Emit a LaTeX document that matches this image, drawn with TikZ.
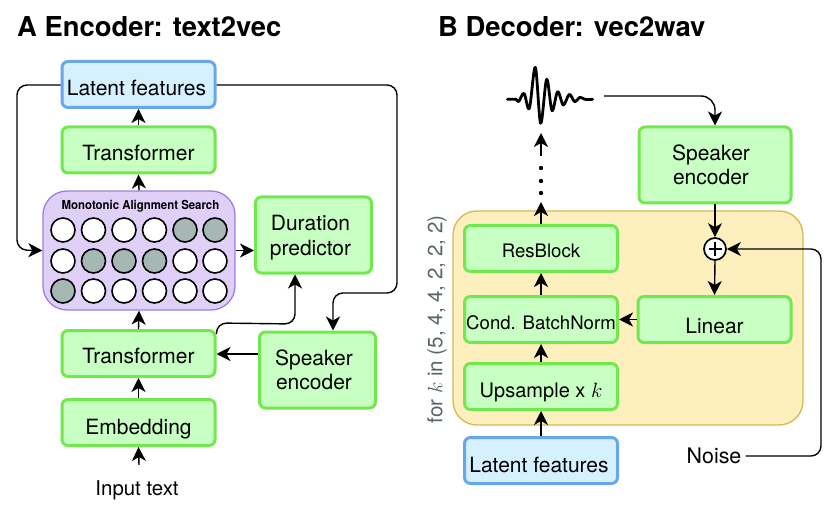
\documentclass[tikz,border=0pt]{standalone}
\usepackage{fontspec}
\setmainfont{TeX Gyre Heros}
\usetikzlibrary{arrows.meta,calc}
\definecolor{greenfill}{HTML}{C8FFC2}
\definecolor{greenline}{HTML}{70E84E}
\definecolor{bluefill}{HTML}{D5F0FF}
\definecolor{blueline}{HTML}{6AA6EC}
\definecolor{purplefill}{HTML}{E0D0F8}
\definecolor{purpleline}{HTML}{9A80E6}
\definecolor{yellowfill}{HTML}{FDF0BE}
\definecolor{yellowline}{HTML}{D6B94E}
\definecolor{cellgrey}{HTML}{A6B8B3}
\definecolor{labelgrey}{HTML}{566666}
\newcommand{\labelsize}{\fontsize{21}{24.5}\selectfont}
\newcommand{\smallsize}{\fontsize{18.6}{23}\selectfont}
\tikzset{
  x=1pt, y=-1pt,
  flowbox/.style={rounded corners=6pt, line width=3pt, inner sep=0pt, align=center,
    font=\labelsize, text=black},
  greenbox/.style={flowbox, draw=greenline, fill=greenfill},
  bluebox/.style={flowbox, draw=blueline, fill=bluefill},
  wide/.style={minimum width=153pt, minimum height=46pt},
  tall/.style={minimum width=116pt, minimum height=76pt},
  lower/.style={text height=#1, text depth=0pt},
  panel/.style={rounded corners=24pt, line width=1.3pt},
  cell/.style={circle, draw=black, line width=1.6pt, minimum size=24pt, inner sep=0pt, fill=white},
  cellon/.style={cell, fill=cellgrey},
  link/.style={draw=black, line width=1.4pt, rounded corners=10pt,
    -{Stealth[length=14pt, width=14pt, inset=4pt]}},
  heading/.style={font=\fontsize{27.4}{32}\selectfont\bfseries, anchor=west},
}
\begin{document}
\begin{tikzpicture}
\useasboundingbox (0,0) rectangle (830,513);

% Panel headings
\node[heading, inner sep=0pt] (titleA) at (17,27) {A Encoder: text2vec};
\node[heading, inner sep=0pt] (titleB) at (438,27) {B Decoder: vec2wav};

% Encoder: alignment panel with its grid of cells
\node[draw=purpleline, fill=purplefill, panel, minimum width=192pt, minimum height=119pt, inner sep=0pt]
  (mas) at (139,250.5) {};
\node[inner sep=0pt, font=\fontsize{12.4}{14}\selectfont\bfseries] (masT) at (140.5,206)
  {\scalebox{0.92}[1]{Monotonic Alignment Search}};
\foreach \cx [count=\i] in {63,93.5,124,154.5,185,215} {
  \foreach \cy [count=\j] in {230,261,291} {
    \pgfmathtruncatemacro{\on}{
      (\j==1 && \i>=5) || (\j==2 && \i>=2 && \i<=4) || (\j==3 && \i==1) ? 1 : 0}
    \ifnum\on=1
      \node[cellon] (c\j\i) at (\cx,\cy) {};
    \else
      \node[cell] (c\j\i) at (\cx,\cy) {};
    \fi
  }
}

% Encoder blocks
\node[bluebox, wide, lower=23pt] (latentA) at (138.5,84.5) {Latent features\hspace*{4pt}};
\node[greenbox, wide, lower=22pt] (transTop) at (138.5,150) {Transformer};
\node[greenbox, tall] (duration) at (313.5,235) {\rule{0pt}{21pt}Duration\hspace*{6pt}\\predictor\hspace*{6pt}};
\node[greenbox, wide, lower=19pt] (transLow) at (138.5,353.5) {Transformer};
\node[greenbox, tall] (spkA) at (317.5,370) {Speaker\hspace*{7pt}\\encoder\hspace*{7pt}};
\node[greenbox, wide, lower=23pt] (embed) at (138.5,422.5) {Embedding};
\node[inner sep=0pt, font=\fontsize{20.4}{24}\selectfont] (input) at (137,490) {Input text};
\coordinate (inputTop) at (139,465);

% Encoder connectors
\draw[link] (inputTop) -- (embed.south);
\draw[link] (embed.north) -- (transLow.south);
\draw[link] (transLow.north) -- (mas.south);
\draw[link] (mas.north) -- (transTop.south);
\draw[link] (transTop.north) -- (latentA.south);
\draw[link] (mas.east) -- (duration.west |- mas.east);
\draw[link] (latentA.west |- 0,85) -- (17,85) -- (17,250) -- (mas.west);
\draw[link] (latentA.east |- 0,85) -- (397,85) -- (397,293) -- (333,293) -- (333,0 |- spkA.north);
\draw[link] (transLow.north east) ++(0,5) -- ++(0,-11) -- (295,324) -- (295,0 |- duration.south);
\draw[link] (spkA.west |- 0,354) -- (transLow.east |- 0,354);

% Decoder: repeated stage panel
\node[draw=yellowline, fill=yellowfill, panel, minimum width=350pt, minimum height=214pt, inner sep=0pt]
  (stage) at (628,318) {};
\node[rotate=90, inner sep=0pt, text=labelgrey, font=\fontsize{20.6}{24}\selectfont] (stageT) at (437,319.5)
  {for $k$ in (5, 4, 4, 2, 2, 2)};

% Decoder blocks
\node[greenbox, wide, font=\smallsize, lower=19pt] (resblock) at (541,248.5) {ResBlock};
\node[greenbox, wide, font=\smallsize, lower=19pt] (condbn) at (541,319.5) {Cond. BatchNorm};
\node[greenbox, wide, font=\fontsize{20}{24}\selectfont, lower=22pt] (upsample) at (541,386.5) {Upsample x $k$};
\node[bluebox, wide, lower=23pt] (latentB) at (541,460.5) {Latent features\hspace*{4pt}};
\node[greenbox, wide, lower=27pt] (linear) at (714.5,319.5) {Linear};
\node[greenbox, minimum width=152pt, minimum height=76pt] (spkB) at (715,165) {Speaker\hspace*{8pt}\\encoder\hspace*{8pt}};
\node[circle, draw=black, fill=white, line width=1.7pt, minimum size=22pt, inner sep=0pt] (plus) at (715,249) {};
\draw[line width=1.7pt] (plus.center) ++(-6.5,0) -- ++(13,0) (plus.center) ++(0,-6.5) -- ++(0,13);
\node[inner sep=0pt, font=\fontsize{21.4}{25}\selectfont] (noise) at (714,456) {Noise};

% Generated waveform
\begin{scope}[shift={(500,60)}, x=0.3333pt, y=-0.3333pt]
  \draw[line width=2.8pt, line join=round, line cap=round] plot[smooth, tension=0.55] coordinates {
    (22,118) (48,118) (56,125) (72,100) (88,145) (106,22) (122,190) (140,58)
    (156,152) (173,95) (190,135) (208,103) (224,125) (240,112) (255,118) (278,118)};
\end{scope}
\coordinate (waveOut) at (604,96);
\coordinate (waveIn) at (541,133);
\coordinate (dotsEnd) at (541,156);
\coordinate (stageOut) at (541,202);

% Decoder connectors
\draw[link] (latentB.north) -- (upsample.south);
\draw[link] (upsample.north) -- (condbn.south);
\draw[link] (condbn.north) -- (resblock.south);
\draw[link] (resblock.north) -- (stageOut);
\draw[link] (dotsEnd) -- (waveIn);
\draw[link, rounded corners=14pt] (waveOut) -- (715,96) -- (spkB.north);
\draw[link] (spkB.south) -- (plus.north);
\draw[link] (plus.south) -- (linear.north);
\draw[link] (linear.west) -- (condbn.east);
\draw[link] (noise.east) ++(4,0) -- (821,456) -- (821,249) -- (plus.east);

% Dotted continuation between the stages and the waveform
\foreach \dy [count=\n] in {168,181,193} {
  \fill (541,\dy) circle (2.2pt);
}
\end{tikzpicture}
\end{document}
